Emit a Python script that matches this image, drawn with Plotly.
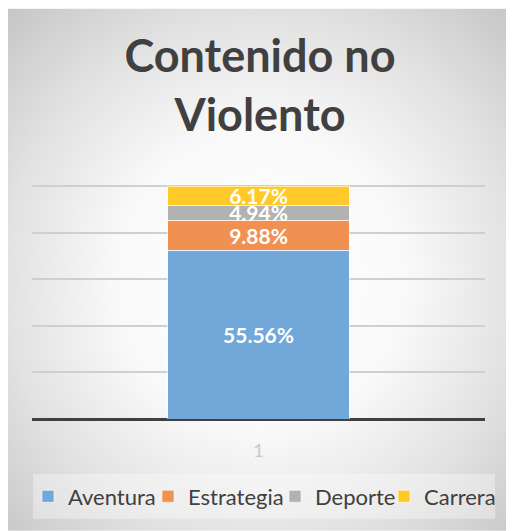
import base64
import plotly.graph_objects as go

# ---------------- data ----------------
categories = ["1"]
series_names = ["Aventura", "Estrategia", "Deporte", "Carrera"]
aventura = [55.56]
estrategia = [9.88]
deporte = [4.94]
carrera = [6.17]
series_values = [aventura, estrategia, deporte, carrera]
series_colors = ["#72A7DA", "#F09152", "#B2B2B2", "#FFC928"]
chart_title = "Contenido no<br>Violento"

# ---------------- geometry (page has an 8px body margin) ----------------
W, H = 506, 523
HEAD = 1.01  # small headroom so the top gridline is drawn
ML, MR, MB = 24, 29, 112
PH = 233 * HEAD
MT = H - MB - PH
PW = W - ML - MR
FONT = "Lato"

total = sum(v[0] for v in series_values)


def px_x(px):
    return (px - ML) / PW


def px_y(py):
    return (H - MB - py) / PH


# radial gradient background (chart area)
svg = (
    "<svg xmlns='http://www.w3.org/2000/svg' width='507' height='524' preserveAspectRatio='none'>"
    "<defs><radialGradient id='g' cx='0.5' cy='0.52' r='0.72'>"
    "<stop offset='0' stop-color='#ffffff'/>"
    "<stop offset='0.4' stop-color='#f9f9f9'/>"
    "<stop offset='0.7' stop-color='#e2e2e2'/>"
    "<stop offset='1' stop-color='#c6c6c6'/>"
    "</radialGradient></defs>"
    "<rect width='100%' height='100%' fill='url(#g)'/>"
    "</svg>"
)
bg_uri = "data:image/svg+xml;base64," + base64.b64encode(svg.encode()).decode()

fig = go.Figure()
legend_ids = ["legend", "legend2", "legend3", "legend4"]
for name, vals, color, lid in zip(series_names, series_values, series_colors, legend_ids):
    fig.add_trace(go.Bar(
        x=categories, y=vals, name=name,
        marker=dict(color=color, line=dict(color="rgba(255,255,255,0.6)", width=1)),
        texttemplate="%{y:.2f}%", textposition="inside", insidetextanchor="middle",
        textangle=0, constraintext="none",
        textfont=dict(family=FONT, size=21, color="white", weight="bold"),
        legend=lid, hoverinfo="skip",
    ))

legend_left = [20, 140, 267, 376]
legend_common = dict(
    orientation="h", xref="container", yref="container",
    xanchor="left", yanchor="middle", y=1 - 488.5 / H,
    bgcolor="rgba(0,0,0,0)", borderwidth=0,
    font=dict(family=FONT, size=22, color="#404040"),
)
legends = {}
for lid, lx in zip(legend_ids, legend_left):
    legends[lid] = dict(x=lx / W, **legend_common)

fig.update_layout(
    width=W, height=H,
    margin=dict(l=ML, r=MR, t=MT, b=MB, pad=0),
    paper_bgcolor="white", plot_bgcolor="rgba(0,0,0,0)",
    barmode="stack", bargap=0.6,
    showlegend=True,
    title=dict(text=chart_title, xref="container", x=252 / W, xanchor="center",
               yref="container", y=1 - 64 / H, yanchor="top",
               font=dict(family=FONT, size=45, color="#404040", weight="bold")),
    xaxis=dict(type="category", showgrid=False, zeroline=False, showline=False,
               ticks="", tickfont=dict(family=FONT, size=18, color="#c8c8c8"),
               ticklabelstandoff=19, fixedrange=True),
    yaxis=dict(range=[0, total * HEAD], tickvals=[total * i / 5 for i in range(6)],
               showticklabels=False, ticks="", showgrid=True, gridcolor="#cfcfcf",
               gridwidth=1.5, zeroline=True, zerolinecolor="#404040", zerolinewidth=3,
               showline=False, fixedrange=True),
    images=[dict(source=bg_uri, xref="paper", yref="paper",
                 x=px_x(0), y=px_y(0), sizex=W / PW, sizey=H / PH,
                 xanchor="left", yanchor="top", sizing="stretch", layer="below")],
    shapes=[dict(type="rect", xref="paper", yref="paper",
                 x0=px_x(25), x1=px_x(487), y0=px_y(466), y1=px_y(511),
                 fillcolor="rgba(255,255,255,0.35)", line=dict(width=0), layer="below")],
    **legends,
)

fig.write_html("out.html")
